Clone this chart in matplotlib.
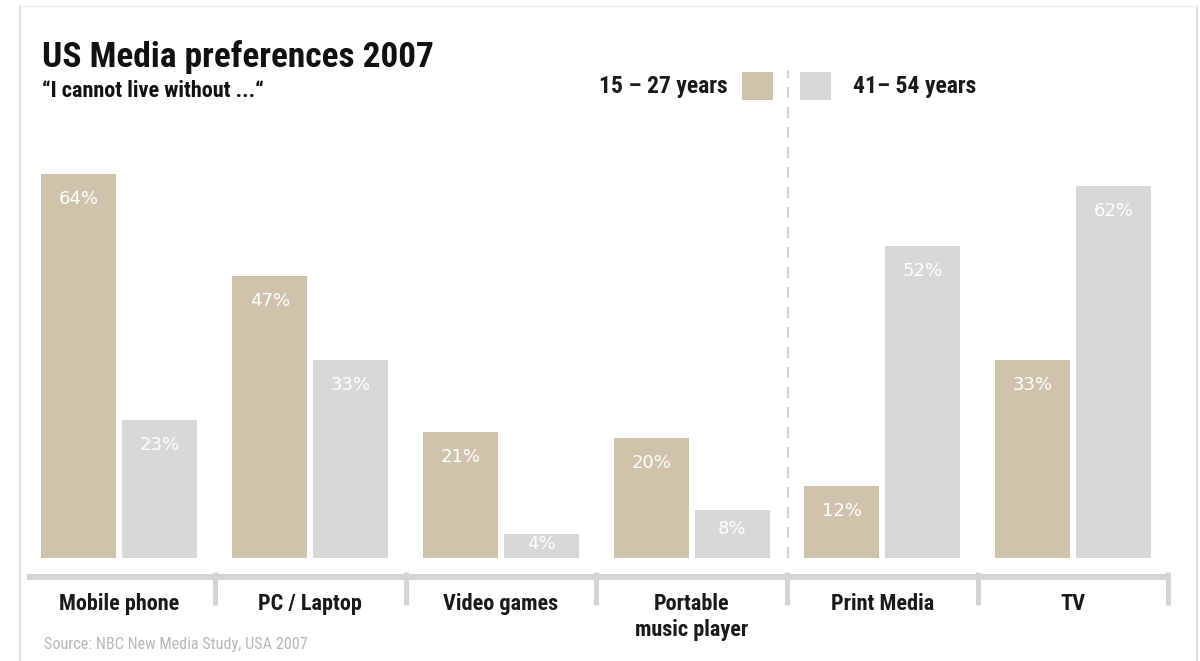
import matplotlib
matplotlib.use("Agg")
import matplotlib.pyplot as plt
from matplotlib import font_manager as fm
from matplotlib.patches import Rectangle
from matplotlib.lines import Line2D

categories = ["Mobile phone", "PC / Laptop", "Video games", "Portable\nmusic player", "Print Media", "TV"]
young = [64, 47, 21, 20, 12, 33]
older = [23, 33, 4, 8, 52, 62]
series_labels = ["15 \u2013 27 years", "41\u2013 54 years"]
title = "US Media preferences 2007"
subtitle = "\u201cI cannot live without ...\u201c"
source = "Source: NBC New Media Study, USA 2007"

TAN = "#cfc3ab"
GREY = "#d6d8da"
LINE = "#d4d4d4"

avail = {f.name for f in fm.fontManager.ttflist}
cond = None
for n in ["Liberation Sans Narrow", "DejaVu Sans Condensed", "Roboto Condensed", "Open Sans Condensed"]:
    if n in avail:
        cond = n
        break
if cond is None:
    cond = "Liberation Sans"

W, H = 1200, 661
fig = plt.figure(figsize=(W / 100, H / 100), dpi=100)
fig.patch.set_facecolor("white")

def px(x, y):
    return x / W, 1 - y / H

# axes: y=0 at pixel 558, 6 px per percent
x0, x1 = 27, 1172
c0, step = 119.5, 190.7
ax_left, ax_right = px(x0, 0)[0], px(x1, 0)[0]
bottom = 1 - 558 / H
height = 420 / H
ax = fig.add_axes([ax_left, bottom, ax_right - ax_left, height])
ax.set_xlim((x0 - c0) / step, (x1 - c0) / step)
ax.set_ylim(0, 70)
ax.axis("off")

n = len(categories)
xs = list(range(n))
bw = 75 / step
off = 40.5 / step
ax.bar([x - off for x in xs], young, width=bw, color=TAN, linewidth=0)
ax.bar([x + off for x in xs], older, width=bw, color=GREY, linewidth=0)

def vlabel(x, v):
    o = min(4.2, v * 0.4)
    ax.text(x, v - o, f"{v}%", ha="center", va="center", color="white",
            fontsize=13, family="DejaVu Sans")

for x, v in zip(xs, young):
    vlabel(x - off, v)
for x, v in zip(xs, older):
    vlabel(x + off, v)

# baseline axis line and separators
ax.add_line(Line2D([ax.get_xlim()[0], n - 0.5 + 0.013], [-3.17, -3.17], color=LINE, lw=4.3,
                   clip_on=False, solid_capstyle="butt"))
for i in range(n):
    xsep = i + 0.5
    ax.add_line(Line2D([xsep, xsep], [-2.3, -7.9], color=LINE, lw=3.6, clip_on=False,
                       solid_capstyle="butt"))

# dashed divider
ax.add_line(Line2D([3.505, 3.505], [0, 81.3], color=LINE, lw=1.6, ls=(0, (5, 4)),
                   clip_on=False))

for x, c in zip(xs, categories):
    ax.text(x, -5.9, c, ha="center", va="top", fontsize=16, fontweight="bold",
            family=cond, color="#1a1a1a", linespacing=1.2, clip_on=False)

# titles
fig.text(*px(42, 67), title, fontsize=25.5, fontweight="bold", family=cond, va="baseline",
         color="#111111")
fig.text(*px(42, 97), subtitle, fontsize=16, fontweight="bold", family=cond, va="baseline",
         color="#111111")

# legend
fig.text(*px(728, 87), series_labels[0], ha="right", va="center", fontsize=17,
         fontweight="bold", family=cond, color="#1a1a1a")
fig.text(*px(853, 87), series_labels[1], ha="left", va="center", fontsize=17,
         fontweight="bold", family=cond, color="#1a1a1a")
for xl, col in [(742, TAN), (800, GREY)]:
    l, t = px(xl, 72)
    fig.patches.append(Rectangle((l, t - 28 / H), 31 / W, 28 / H, transform=fig.transFigure,
                                 facecolor=col, edgecolor="none"))

fig.text(*px(44, 645), source, ha="left", va="center", fontsize=11.7, family=cond,
         color="#b8b8b8")

# faint frame
for xl in (20, 1197):
    fig.add_artist(Line2D([xl / W, xl / W], [0, 1 - 6 / H], transform=fig.transFigure,
                          color="#dedede", lw=1.5))
fig.add_artist(Line2D([20 / W, 1197 / W], [1 - 6 / H, 1 - 6 / H], transform=fig.transFigure,
                      color="#f2f2f2", lw=1.0))

fig.savefig("out.png", dpi=100)
